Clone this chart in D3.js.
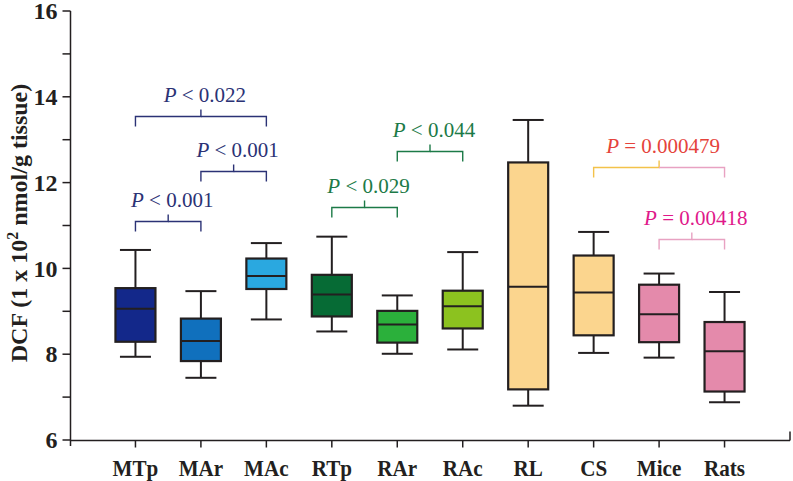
<!DOCTYPE html>
<html><head><meta charset="utf-8">
<script src="https://cdn.jsdelivr.net/npm/d3@7/dist/d3.min.js"></script>
<style>
html,body{margin:0;padding:0;background:#fff;}
svg{display:block;font-family:"Liberation Serif","Times New Roman",serif;}
</style></head>
<body>
<svg id="chart" width="793" height="481"></svg>
<script>
const categories = ["MTp","MAr","MAc","RTp","RAr","RAc","RL","CS","Mice","Rats"];
const whiskerLow  = [7.94, 7.45, 8.81, 8.53, 8.01, 8.11, 6.80, 8.03, 7.92, 6.88];
const q1          = [8.29, 7.84, 9.52, 8.88, 8.27, 8.60, 7.18, 8.44, 8.28, 7.13];
const median      = [9.06, 8.31, 9.82, 9.39, 8.69, 9.12, 9.57, 9.44, 8.93, 8.07];
const q3          = [9.54, 8.83, 10.23, 9.85, 9.01, 9.48, 12.47, 10.30, 9.62, 8.75];
const whiskerHigh = [10.43, 9.47, 10.59, 10.74, 9.37, 10.38, 13.46, 10.85, 9.88, 9.45];
const fillColors  = ["#13288a","#1070bd","#2aa8e0","#066b35","#2bb03b","#8cc21f","#fbd58e","#fbd58e","#e48aab","#e48aab"];
const yTicks = [6, 8, 10, 12, 14, 16];
const yMinorTicks = [7, 9, 11, 13, 15];

// significance brackets
const bracketFrom  = [0, 1, 0, 3, 4, 7, 8];
const bracketTo    = [1, 2, 2, 4, 5, 9, 9];
const bracketLevel = [11.10, 12.28, 13.56, 11.43, 12.74, 12.37, 10.69];
const bracketOp    = ["<", "<", "<", "<", "<", "=", "="];
const bracketValue = ["0.001", "0.001", "0.022", "0.029", "0.044", "0.000479", "0.00418"];
const bracketTextColor = ["#2b3275","#2b3275","#2b3275","#1c7a47","#1c7a47","#e5433b","#e0198a"];
const bracketLeftColor = ["#2b3275","#2b3275","#2b3275","#1c7a47","#1c7a47","#f3c24a","#e8a2c2"];
const bracketRightColor= ["#2b3275","#2b3275","#2b3275","#1c7a47","#1c7a47","#e8a2c2","#e8a2c2"];

const svg = d3.select("#chart");
const x = d3.scalePoint().domain(categories).range([70, 790]).padding(1);
const y = d3.scaleLinear().domain([6, 16]).range([440, 11]);
const ink = "#231f20";

// Y axis
const gy = svg.append("g").attr("transform","translate(70.5,0)");
gy.append("line").attr("y1", y(16)).attr("y2", y(6) + 6).attr("stroke", ink).attr("stroke-width", 1.5);
gy.selectAll(".maj").data(yTicks).join("line")
  .attr("x1", -8).attr("x2", 0).attr("y1", d => y(d)).attr("y2", d => y(d))
  .attr("stroke", ink).attr("stroke-width", 1.5);
gy.selectAll(".min").data(yMinorTicks).join("line")
  .attr("x1", -8).attr("x2", 0).attr("y1", d => y(d)).attr("y2", d => y(d))
  .attr("stroke", ink).attr("stroke-width", 1.5);
gy.selectAll("text").data(yTicks).join("text")
  .attr("x", -13).attr("y", d => y(d)).attr("dy", "0.34em")
  .attr("text-anchor", "end").attr("font-weight", "bold").attr("font-size", 24)
  .attr("fill", ink).text(d => d);

// X axis
const gx = svg.append("g").attr("transform","translate(0,440.5)");
gx.append("line").attr("x1", 70).attr("x2", 790).attr("stroke", ink).attr("stroke-width", 1.5);
gx.append("line").attr("x1", 790).attr("x2", 790).attr("y1", 0).attr("y2", -9).attr("stroke", ink).attr("stroke-width", 1.5);
gx.selectAll(".tk").data(categories).join("line")
  .attr("x1", d => x(d)).attr("x2", d => x(d)).attr("y1", 0).attr("y2", 7)
  .attr("stroke", ink).attr("stroke-width", 1.5);
gx.selectAll("text").data(categories).join("text")
  .attr("transform", d => `translate(${x(d)},35) scale(0.88,1)`)
  .attr("text-anchor", "middle").attr("font-weight", "bold").attr("font-size", 24)
  .attr("fill", ink).text(d => d);

// Y title
const title = svg.append("text")
  .attr("transform", `translate(27,223) rotate(-90)`)
  .attr("text-anchor", "middle").attr("font-weight", "bold").attr("font-size", 24).attr("fill", ink);
title.append("tspan").text("DCF (1 x 10");
title.append("tspan").attr("dy", -9).attr("font-size", 16).text("2");
title.append("tspan").attr("dy", 9).text(" nmol/g tissue)");

// Boxes
const boxW = 40, capW = 31;
const gb = svg.append("g");
const idx = d3.range(categories.length);
gb.selectAll(".wh").data(idx).join("line")
  .attr("x1", i => x(categories[i])).attr("x2", i => x(categories[i]))
  .attr("y1", i => y(whiskerLow[i])).attr("y2", i => y(whiskerHigh[i]))
  .attr("stroke", ink).attr("stroke-width", 2);
gb.selectAll(".capH").data(idx).join("line")
  .attr("x1", i => x(categories[i]) - capW/2).attr("x2", i => x(categories[i]) + capW/2)
  .attr("y1", i => y(whiskerHigh[i])).attr("y2", i => y(whiskerHigh[i]))
  .attr("stroke", ink).attr("stroke-width", 2);
gb.selectAll(".capL").data(idx).join("line")
  .attr("x1", i => x(categories[i]) - capW/2).attr("x2", i => x(categories[i]) + capW/2)
  .attr("y1", i => y(whiskerLow[i])).attr("y2", i => y(whiskerLow[i]))
  .attr("stroke", ink).attr("stroke-width", 2);
gb.selectAll("rect").data(idx).join("rect")
  .attr("x", i => x(categories[i]) - boxW/2).attr("width", boxW)
  .attr("y", i => y(q3[i])).attr("height", i => y(q1[i]) - y(q3[i]))
  .attr("fill", i => fillColors[i]).attr("stroke", ink).attr("stroke-width", 2.2);
gb.selectAll(".med").data(idx).join("line")
  .attr("x1", i => x(categories[i]) - boxW/2).attr("x2", i => x(categories[i]) + boxW/2)
  .attr("y1", i => y(median[i])).attr("y2", i => y(median[i]))
  .attr("stroke", ink).attr("stroke-width", 2);

// Brackets
const gs = svg.append("g");
bracketFrom.forEach((f, k) => {
  const x1 = x(categories[f]), x2 = x(categories[bracketTo[k]]);
  const xm = (x1 + x2) / 2, yy = Math.round(y(bracketLevel[k])) + 0.5;
  gs.append("path").attr("d", `M${x1},${yy+10}V${yy}H${xm}V${yy-7}`)
    .attr("fill","none").attr("stroke", bracketLeftColor[k]).attr("stroke-width", 1.4);
  gs.append("path").attr("d", `M${xm},${yy}H${x2}V${yy+10}`)
    .attr("fill","none").attr("stroke", bracketRightColor[k]).attr("stroke-width", 1.4);
  const t = gs.append("text").attr("x", xm + 4).attr("y", yy - 15)
    .attr("text-anchor","middle").attr("font-size", 21).attr("fill", bracketTextColor[k]);
  t.append("tspan").attr("font-style","italic").text("P");
  t.append("tspan").text(` ${bracketOp[k]} ${bracketValue[k]}`);
});
</script>
</body></html>
